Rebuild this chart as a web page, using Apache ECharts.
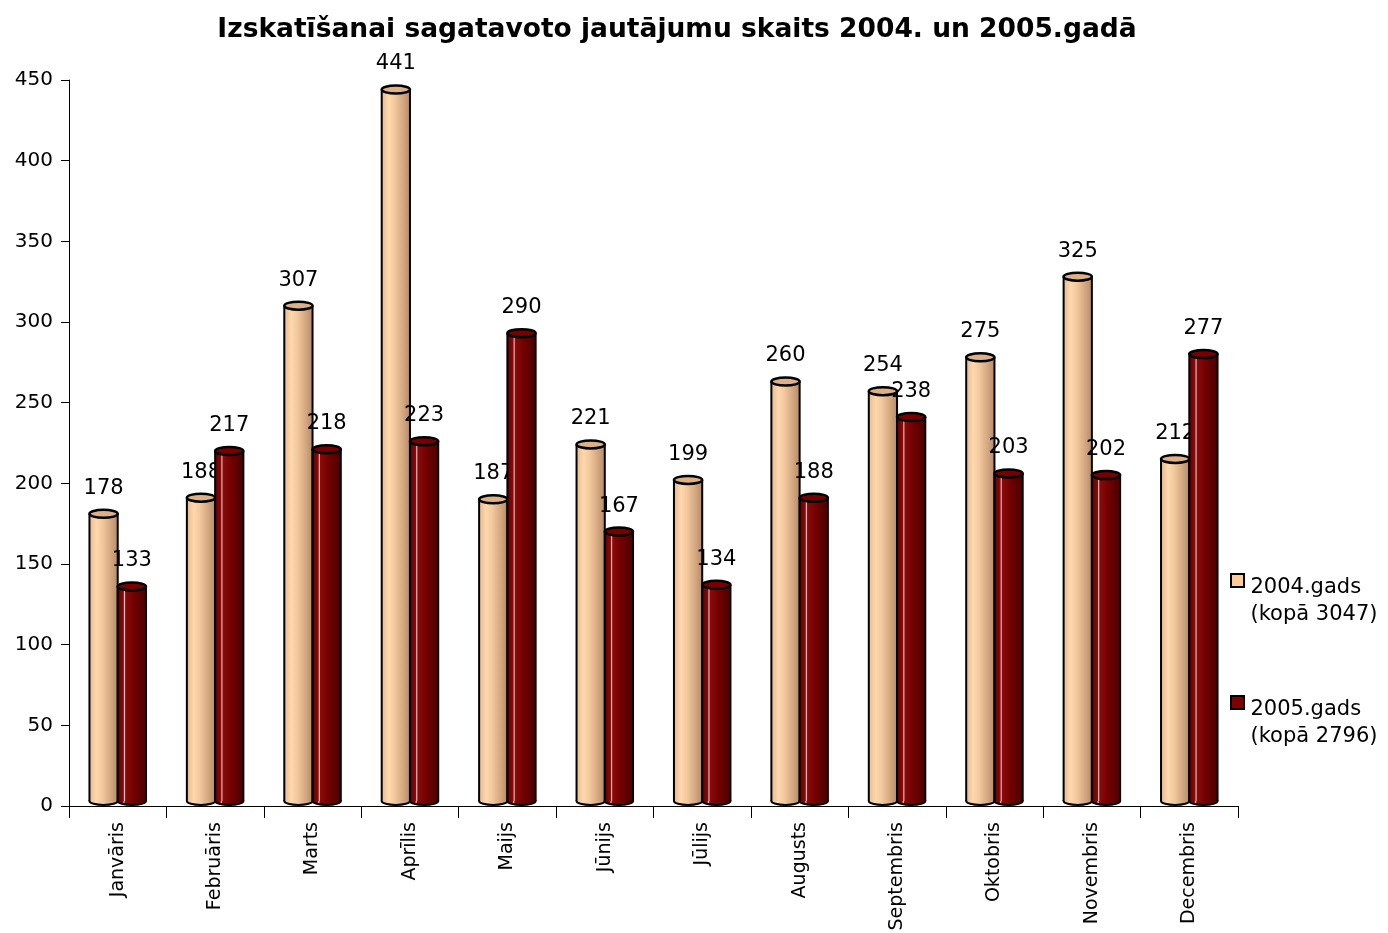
<!DOCTYPE html>
<html lang="lv">
<head>
    <meta charset="UTF-8">
    <script src="https://cdn.jsdelivr.net/npm/echarts@6/dist/echarts.min.js"></script>
    <title>Izskatīšanai sagatavoto jautājumu skaits</title>
    <style>
        html, body { margin: 0; padding: 0; background: #fff; }
        #main { width: 1388px; height: 933px; }
    </style>
</head>
<body>
    <div id="main"></div>
    <script type="text/javascript">
        // dati
        var months = ['Janvāris', 'Februāris', 'Marts', 'Aprīlis', 'Maijs', 'Jūnijs',
                      'Jūlijs', 'Augusts', 'Septembris', 'Oktobris', 'Novembris', 'Decembris'];
        var values2004 = [178, 188, 307, 441, 187, 221, 199, 260, 254, 275, 325, 212];
        var values2005 = [133, 217, 218, 223, 290, 167, 134, 188, 238, 203, 202, 277];
        var seriesNames = ['2004.gads\n(kopā 3047)', '2005.gads\n(kopā 2796)'];
        var yTicks = { min: 0, max: 450, interval: 50 };

        var FONT = 'DejaVu Sans, Verdana, sans-serif';

        function ellipsePath(cx, cy, rx, ry) {
            return 'M' + (cx - rx) + ' ' + cy +
                ' A' + rx + ' ' + ry + ' 0 1 0 ' + (cx + rx) + ' ' + cy +
                ' A' + rx + ' ' + ry + ' 0 1 0 ' + (cx - rx) + ' ' + cy + ' Z';
        }

        // cilindra zīmēšana
        function cylinder(side, stops, topFill) {
            return function (params, api) {
                var base = api.coord([api.value(0), 0]);
                var top = api.coord([api.value(0), api.value(1)]);
                var band = api.size([1, 0])[0];
                var w = band * 0.29;
                var cx = base[0] + side * w / 2;
                var rx = w / 2, ry = 4;
                var by = base[1] - ry - 1;
                var ty = top[1] - 5;
                var grad = new echarts.graphic.LinearGradient(0, 0, 1, 0, stops);
                return {
                    type: 'group',
                    children: [
                        { type: 'path', shape: { pathData: ellipsePath(cx, by, rx, ry) },
                          style: { fill: grad, stroke: '#000', lineWidth: 2 } },
                        { type: 'rect', shape: { x: cx - rx, y: ty, width: w, height: by - ty },
                          style: { fill: grad } },
                        { type: 'line', shape: { x1: cx - rx, y1: ty, x2: cx - rx, y2: by },
                          style: { stroke: '#000', lineWidth: 2 } },
                        { type: 'line', shape: { x1: cx + rx, y1: ty, x2: cx + rx, y2: by },
                          style: { stroke: '#000', lineWidth: 2 } },
                        { type: 'path', shape: { pathData: ellipsePath(cx, ty, rx, ry) },
                          style: { fill: topFill, stroke: '#000', lineWidth: 2.5 } },
                        { type: 'text', x: cx, y: ty - 15,
                          style: { text: String(api.value(1)), textAlign: 'center', textVerticalAlign: 'bottom',
                                   fill: '#000', fontSize: 21, fontFamily: FONT } }
                    ]
                };
            };
        }

        var stops2004 = [
            { offset: 0, color: '#E9B98C' },
            { offset: 0.25, color: '#FFD8AE' },
            { offset: 0.45, color: '#F3C99E' },
            { offset: 0.75, color: '#D4A881' },
            { offset: 1, color: '#B48C6C' }
        ];
        var stops2005 = [
            { offset: 0, color: '#5E0000' },
            { offset: 0.2, color: '#8A0A0A' },
            { offset: 0.24, color: '#E8C0C0' },
            { offset: 0.28, color: '#8A0A0A' },
            { offset: 0.6, color: '#700000' },
            { offset: 1, color: '#4A0000' }
        ];

        function toData(vals) {
            return vals.map(function (v, i) { return [i, v]; });
        }

        // leģendas ikona: kvadrāts augšā, lai tas stāv pie pirmās rindas
        var legendIcon = 'path://M0,0 L13,0 L13,13 L0,13 Z M0,54 L0.01,54';

        var myChart = echarts.init(document.getElementById('main'));
        var option = {
            animation: false,
            title: {
                text: 'Izskatīšanai sagatavoto jautājumu skaits 2004. un 2005.gadā',
                left: 672,
                textAlign: 'center',
                top: 12,
                textStyle: { fontFamily: FONT, fontSize: 26.5, fontWeight: 'bold', color: '#000' }
            },
            legend: {
                orient: 'vertical',
                left: 1230,
                top: 573,
                padding: 0,
                itemGap: 66,
                itemWidth: 14,
                itemHeight: 54,
                icon: legendIcon,
                align: 'left',
                textStyle: { fontFamily: FONT, fontSize: 21, color: '#000', lineHeight: 27, padding: [0, 0, 0, 1] },
                data: seriesNames
            },
            grid: { left: 69, right: 150, top: 80, bottom: 127, containLabel: false, outerBoundsMode: 'none' },
            xAxis: {
                type: 'category',
                data: months,
                axisLine: { lineStyle: { color: '#000', width: 1 } },
                axisTick: { show: true, length: 12, lineStyle: { color: '#000' } },
                axisLabel: { rotate: 90, fontSize: 19, fontFamily: FONT, color: '#000', margin: 16, interval: 0 }
            },
            yAxis: {
                type: 'value',
                min: yTicks.min,
                max: yTicks.max,
                interval: yTicks.interval,
                splitLine: { show: false },
                axisLine: { show: true, lineStyle: { color: '#000', width: 1 } },
                axisTick: { show: true, length: 8, lineStyle: { color: '#000' } },
                axisLabel: { fontSize: 20, fontFamily: FONT, color: '#000', margin: 16 }
            },
            series: [
                {
                    name: seriesNames[0],
                    type: 'custom',
                    renderItem: cylinder(-1, stops2004, '#DDB088'),
                    itemStyle: { color: '#FFCC99', borderColor: '#000', borderWidth: 2 },
                    encode: { x: 0, y: 1 },
                    data: toData(values2004),
                    z: 2
                },
                {
                    name: seriesNames[1],
                    type: 'custom',
                    renderItem: cylinder(1, stops2005, '#7A0000'),
                    itemStyle: { color: '#800000', borderColor: '#000', borderWidth: 2 },
                    encode: { x: 0, y: 1 },
                    data: toData(values2005),
                    z: 3
                }
            ]
        };
        myChart.setOption(option);
    </script>
</body>
</html>
